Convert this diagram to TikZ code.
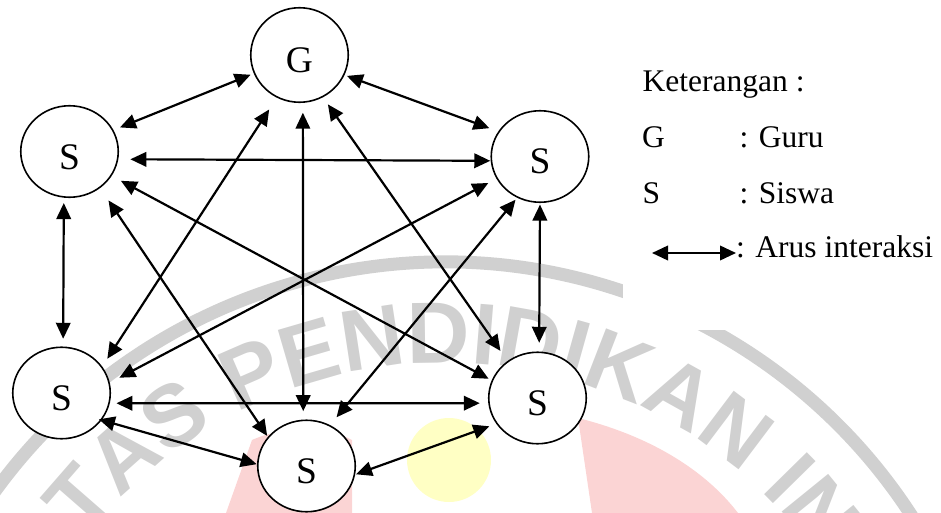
\documentclass[tikz,border=0pt]{standalone}
\usepackage{fontspec}
\setmainfont{Liberation Serif}
\newfontfamily\wmfont{Liberation Sans}
\usetikzlibrary{arrows.meta,shapes.geometric,decorations.text}
\definecolor{wmgray}{RGB}{208,208,208}
\definecolor{wmpink}{RGB}{251,212,212}
\definecolor{wmyellow}{RGB}{255,255,196}
\tikzset{
  pers/.style={ellipse, draw, fill=white, line width=1.6pt, inner sep=0pt,
    minimum width=97.5pt, minimum height=91.5pt,
    font=\fontsize{37.5}{40}\selectfont, text height=35pt, text depth=0pt},
  link/.style={line width=2.2pt,
    {Triangle[length=16pt,width=14.5pt]}-{Triangle[length=16pt,width=14.5pt]}},
  legtext/.style={anchor=base west, inner sep=0pt, font=\fontsize{31.5}{34}\selectfont}
}
\begin{document}
\begin{tikzpicture}[x=1pt,y=-1pt]
\useasboundingbox (0,0) rectangle (941,513);
% watermark (background)
\begin{scope}
\clip (0,0) rectangle (941,513);
\fill[wmpink] (578,418) .. controls (650,436) and (705,470) .. (738,513) -- (592,513) -- cycle;
\fill[wmpink] (226,513) -- (252,440) .. controls (285,425) and (330,428) .. (352,440) -- (352,513) -- cycle;
\fill[wmyellow] (449,460) circle[radius=42];
\begin{scope}[shift={(445,818)}, y=1pt]
  \draw[wmgray, line width=13pt] (160:556) arc[start angle=160, end angle=15, radius=556];
  \path[decorate, decoration={text along path, text color=wmgray,
      text={|\wmfont\bfseries\fontsize{87}{87}\selectfont|TAS PENDIDIKAN IN}}]
    (142.2:455) arc[start angle=142.2, end angle=20, radius=455];
\end{scope}
\fill[white] (623,0) rectangle (941,330);
\end{scope}
% nodes
\node[pers, minimum height=94.5pt] (G) at (299.5,55) {G};
\node[pers] (TL) at (69.5,151.5) {S};
\node[pers] (TR) at (540,156.5) {S};
\node[pers] (BL) at (61.5,393) {S};
\node[pers] (BC) at (306.5,466) {S};
\node[pers] (BR) at (537.5,398) {S};
% connectors
\draw[link, shorten <=3.4pt, shorten >=7pt] (G.202) -- (TL.26);
\draw[link, shorten <=2.5pt, shorten >=9.4pt] (G.336) -- (TR.149);
\draw[link, shorten <=14pt, shorten >=9.3pt] (G.242) -- (BL.33);
\draw[link, shorten <=9.8pt, shorten >=8.4pt] (G.-86.5) -- (BC.94);
\draw[link, shorten <=8.6pt, shorten >=12.3pt] (G.-61.5) -- (BR.129);
\draw[link, shorten <=12pt, shorten >=0.4pt] (TL.-9.6) -- (TR.185.9);
\draw[link, shorten <=5.3pt, shorten >=7.7pt] (TL.-97) -- (BL.88.7);
\draw[link, shorten <=14.9pt, shorten >=1.2pt] (TL.-50) -- (BC.143.6);
\draw[link, shorten <=10.4pt, shorten >=3.4pt] (TL.-30.5) -- (BR.159.9);
\draw[link, shorten <=9.2pt, shorten >=10.7pt] (TR.207.4) -- (BL.12.5);
\draw[link, shorten <=2.5pt, shorten >=10.1pt] (TR.241.8) -- (BC.60);
\draw[link, shorten <=1.5pt, shorten >=8.7pt] (TR.-90) -- (BR.88);
\draw[link, shorten <=-3pt, shorten >=0.3pt] (BL.-34) -- (BC.178.8);
\draw[link, shorten <=6.6pt, shorten >=8.5pt] (BL.-12.4) -- (BR.186.9);
\draw[link, shorten <=0.9pt, shorten >=7.4pt] (BC.-10.3) -- (BR.212.9);
% legend
\node[legtext] (ket) at (642.5,92) {Keterangan :};
\node[legtext] (lg) at (642,148) {G};
\node[legtext] (lgt) at (739.5,148) {: Guru};
\node[legtext] (ls) at (642.5,203) {S};
\node[legtext] (lst) at (739.5,203) {: Siswa};
\coordinate (la) at (652,253);
\coordinate (lb) at (736,253);
\draw[link] (la) -- (lb);
\node[legtext] (lat) at (736,257) {: Arus interaksi};
\end{tikzpicture}
\end{document}
